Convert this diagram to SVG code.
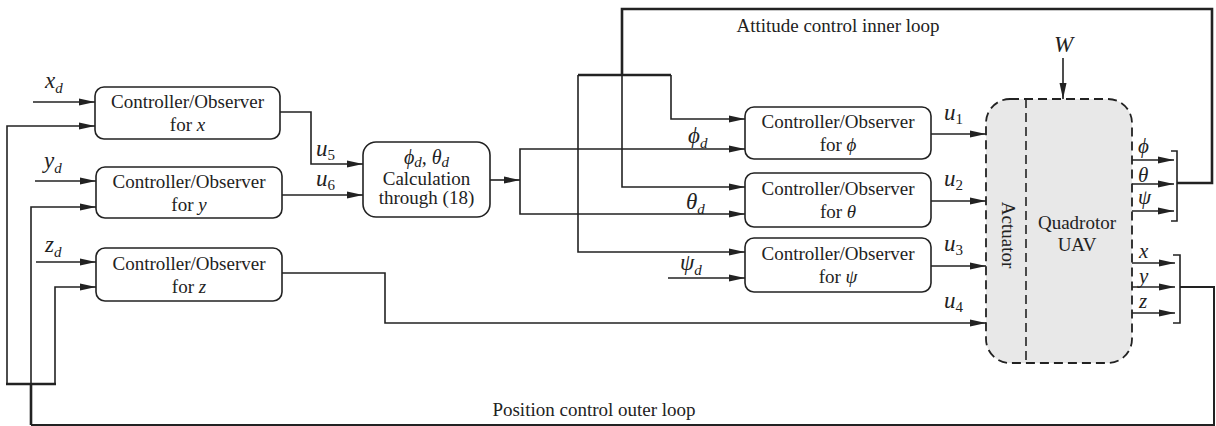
<svg xmlns="http://www.w3.org/2000/svg" width="1216" height="426" viewBox="0 0 1216 426">
<defs>
<style>
.box{fill:#fff;stroke:#222;stroke-width:1.6}
.big{fill:#e8e8e8;stroke:#222;stroke-width:1.8;stroke-dasharray:9 5}
.dash{fill:none;stroke:#222;stroke-width:1.6;stroke-dasharray:9 5}
.ln{fill:none;stroke:#222;stroke-width:1.6}
.thk{fill:none;stroke:#222;stroke-width:2.6}
.t{font-family:"Liberation Serif","Times New Roman","DejaVu Serif",serif;font-size:19px;fill:#222;text-anchor:middle}
.i{font-style:italic}
.m{font-family:"Liberation Serif","Times New Roman","DejaVu Serif",serif;font-style:italic;font-size:23px;fill:#222}
.s{font-size:15px}
.n{font-style:normal;font-size:15px}
</style>
<marker id="ah" markerWidth="16" markerHeight="8" refX="16" refY="4" orient="auto" markerUnits="userSpaceOnUse">
<path d="M0,0.5 L16,4 L0,7.5 Z" fill="#222"/>
</marker>
</defs>
<rect width="1216" height="426" fill="#fff"/>

<g id="connectors">
<path class="ln" d="M33,102 H95" marker-end="url(#ah)"/>
<path class="ln" d="M35,181 H96" marker-end="url(#ah)"/>
<path class="ln" d="M36,262 H96" marker-end="url(#ah)"/>
<path class="ln" d="M1180,287 H1214 V425 H31" style="stroke-width:2"/>
<path class="thk" d="M31,425 V384 M6,384 H56"/>
<path class="ln" d="M7,384 V126 H95" marker-end="url(#ah)"/>
<path class="ln" d="M31,384 V207 H96" marker-end="url(#ah)"/>
<path class="ln" d="M55,384 V287 H96" marker-end="url(#ah)"/>
<path class="ln" d="M280,112 H311 V164 H363" marker-end="url(#ah)"/>
<path class="ln" d="M282,195 H363" marker-end="url(#ah)"/>
<path class="ln" d="M282,273 H385 V323 H986" marker-end="url(#ah)"/>
<path class="ln" d="M490,180 H520" marker-end="url(#ah)"/>
<path class="ln" d="M520,180 V149 H745" marker-end="url(#ah)"/>
<path class="ln" d="M520,180 V214 H745" marker-end="url(#ah)"/>
<path class="thk" d="M1177,183 H1212 V9 H622 V75 M578,75 H671"/>
<path class="ln" d="M622,75 V187 H745" marker-end="url(#ah)"/>
<path class="ln" d="M671,75 V119 H745" marker-end="url(#ah)"/>
<path class="ln" d="M578,75 V252 H745" marker-end="url(#ah)"/>
<path class="ln" d="M668,278 H745" marker-end="url(#ah)"/>
<path class="ln" d="M931,134 H986" marker-end="url(#ah)"/>
<path class="ln" d="M931,201 H986" marker-end="url(#ah)"/>
<path class="ln" d="M931,266 H986" marker-end="url(#ah)"/>
<path class="ln" d="M1063,58 V99" marker-end="url(#ah)"/>
<path class="ln" d="M1132,160 H1174" marker-end="url(#ah)"/>
<path class="ln" d="M1132,184 H1174" marker-end="url(#ah)"/>
<path class="ln" d="M1132,211 H1174" marker-end="url(#ah)"/>
<path class="ln" d="M1132,263 H1175" marker-end="url(#ah)"/>
<path class="ln" d="M1132,287 H1175" marker-end="url(#ah)"/>
<path class="ln" d="M1132,313 H1175" marker-end="url(#ah)"/>
<path class="ln" d="M1171,151 H1177 V221 H1171"/>
<path class="ln" d="M1173,255 H1180 V323 H1173"/>
</g>

<g id="labels">
<text class="m" x="45" y="88">x<tspan class="s" dy="5">d</tspan></text>
<text class="m" x="44" y="168">y<tspan class="s" dy="5">d</tspan></text>
<text class="m" x="45" y="252">z<tspan class="s" dy="5">d</tspan></text>
<text class="m" x="316" y="156">u<tspan class="n" dy="4">5</tspan></text>
<text class="m" x="316" y="186">u<tspan class="n" dy="4">6</tspan></text>
<text class="m" x="688" y="143">ϕ<tspan class="s" dy="5">d</tspan></text>
<text class="m" x="686" y="209">θ<tspan class="s" dy="5">d</tspan></text>
<text class="m" x="680" y="270">ψ<tspan class="s" dy="5">d</tspan></text>
<text class="m" x="944" y="120">u<tspan class="n" dy="4">1</tspan></text>
<text class="m" x="944" y="186">u<tspan class="n" dy="4">2</tspan></text>
<text class="m" x="944" y="251">u<tspan class="n" dy="4">3</tspan></text>
<text class="m" x="944" y="308">u<tspan class="n" dy="4">4</tspan></text>
<text class="m" x="1054" y="52">W</text>
<text class="m" x="1138" y="153" style="font-size:21px">ϕ</text>
<text class="m" x="1138" y="182" style="font-size:21px">θ</text>
<text class="m" x="1138" y="204" style="font-size:21px">ψ</text>
<text class="m" x="1139" y="258" style="font-size:21px">x</text>
<text class="m" x="1139" y="283" style="font-size:21px">y</text>
<text class="m" x="1139" y="308" style="font-size:21px">z</text>
<text class="t" x="838" y="32">Attitude control inner loop</text>
<text class="t" x="594" y="416">Position control outer loop</text>
</g>

<g id="ctrl-x">
<rect class="box" x="95" y="87" width="185" height="52" rx="9"/>
<text class="t" x="187.5" y="108">Controller/Observer</text>
<text class="t" x="187.5" y="131">for <tspan class="i">x</tspan></text>
</g>
<g id="ctrl-y">
<rect class="box" x="96" y="167" width="186" height="51" rx="9"/>
<text class="t" x="189" y="187.5">Controller/Observer</text>
<text class="t" x="189" y="210.5">for <tspan class="i">y</tspan></text>
</g>
<g id="ctrl-z">
<rect class="box" x="96" y="248" width="186" height="53" rx="9"/>
<text class="t" x="189" y="269.5">Controller/Observer</text>
<text class="t" x="189" y="292.5">for <tspan class="i">z</tspan></text>
</g>
<g id="calc">
<rect class="box" x="363" y="142" width="127" height="75" rx="13"/>
<text class="t i" x="426.5" y="164" style="font-size:20px">ϕ<tspan class="s" dy="3">d</tspan><tspan dy="-3">, θ</tspan><tspan class="s" dy="3">d</tspan></text>
<text class="t" x="426.5" y="185">Calculation</text>
<text class="t" x="426.5" y="204">through (18)</text>
</g>
<g id="ctrl-phi">
<rect class="box" x="745" y="107" width="186" height="52" rx="9"/>
<text class="t" x="838" y="128">Controller/Observer</text>
<text class="t" x="838" y="151">for <tspan class="i">ϕ</tspan></text>
</g>
<g id="ctrl-theta">
<rect class="box" x="745" y="173" width="186" height="54" rx="9"/>
<text class="t" x="838" y="195">Controller/Observer</text>
<text class="t" x="838" y="218">for <tspan class="i">θ</tspan></text>
</g>
<g id="ctrl-psi">
<rect class="box" x="745" y="238" width="186" height="54" rx="9"/>
<text class="t" x="838" y="260">Controller/Observer</text>
<text class="t" x="838" y="283">for <tspan class="i">ψ</tspan></text>
</g>
<g id="plant">
<rect class="big" x="986" y="99" width="146" height="264" rx="24"/>
<path class="dash" d="M1026,99 V363"/>
<text class="t" transform="translate(1002,235) rotate(90)" x="0" y="0">Actuator</text>
<text class="t" x="1077" y="229">Quadrotor</text>
<text class="t" x="1077" y="251">UAV</text>
</g>
</svg>
